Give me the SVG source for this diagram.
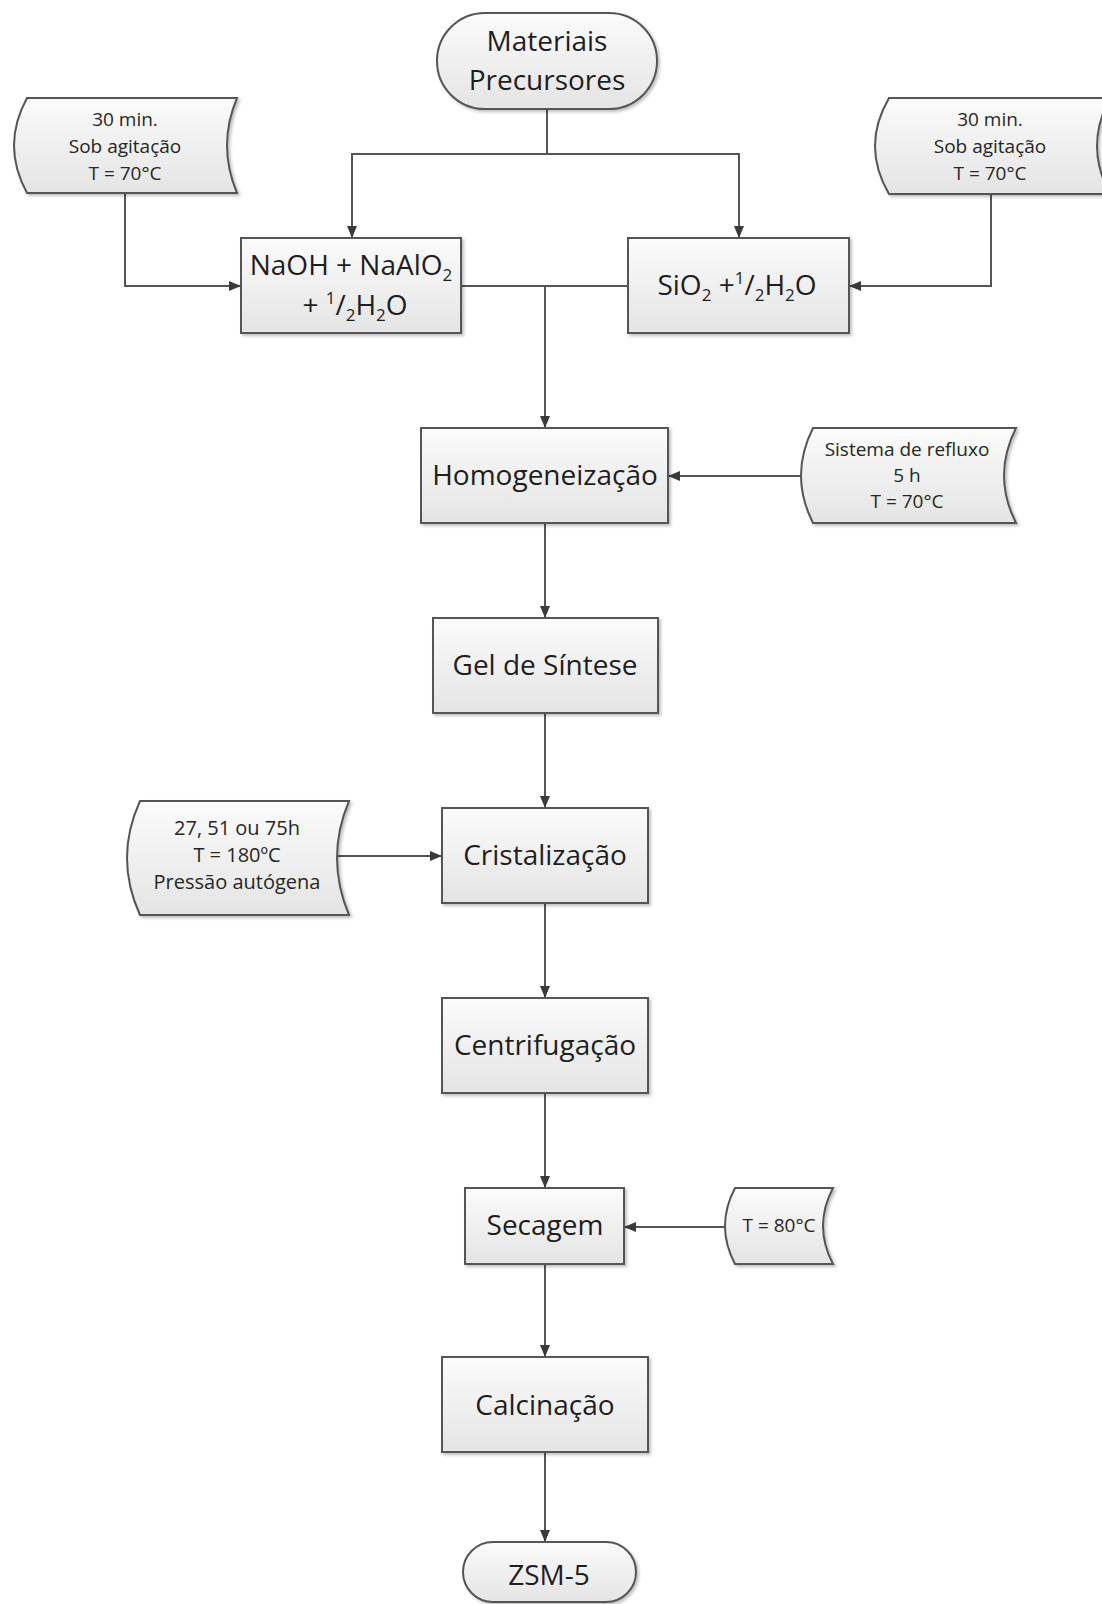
<svg xmlns="http://www.w3.org/2000/svg" width="1102" height="1604" viewBox="0 0 1102 1604">
<style>
.box{fill:url(#g);stroke:#555;stroke-width:2;filter:url(#sh)}
.lbl{font-family:"Open Sans","Liberation Sans",sans-serif;font-size:28px;fill:#1e1e1e;text-anchor:middle}
.sm{font-family:"Open Sans","Liberation Sans",sans-serif;font-size:19px;fill:#262626;text-anchor:middle}
.con{fill:none;stroke:#555;stroke-width:2;marker-end:url(#ar)}
.plain{fill:none;stroke:#555;stroke-width:2}
</style>
<defs>
<linearGradient id="g" x1="0" y1="0" x2="0" y2="1">
<stop offset="0" stop-color="#fbfbfb"/>
<stop offset="1" stop-color="#e4e4e4"/>
</linearGradient>
<filter id="sh" x="-10%" y="-10%" width="125%" height="130%">
<feDropShadow dx="2" dy="2" stdDeviation="1.5" flood-color="#000" flood-opacity="0.25"/>
</filter>
<marker id="ar" viewBox="0 0 12 10" refX="12" refY="5" markerWidth="12" markerHeight="10" markerUnits="userSpaceOnUse" orient="auto">
<path d="M0,0 L12,5 L0,10 Z" fill="#3a3a3a"/>
</marker>
</defs>
<rect width="1102" height="1604" fill="#fff"/>

<g id="connectors">
<path class="con" d="M547,109 V154 H352 V238"/>
<path class="con" d="M547,154 H739 V238"/>
<path class="con" d="M125,193 V286 H241"/>
<path class="con" d="M991,194 V286 H849"/>
<path class="plain" d="M461,286 H628"/>
<path class="con" d="M545,286 V428"/>
<path class="con" d="M801,476 H668"/>
<path class="con" d="M545,523 V618"/>
<path class="con" d="M545,713 V808"/>
<path class="con" d="M337,856 H442"/>
<path class="con" d="M545,903 V998"/>
<path class="con" d="M545,1093 V1188"/>
<path class="con" d="M725,1227 H624"/>
<path class="con" d="M545,1264 V1357"/>
<path class="con" d="M545,1452 V1542"/>
</g>

<g id="materiais">
<rect class="box" x="437" y="13" width="220" height="96" rx="48" ry="48"/>
<text class="lbl" x="547" y="51">Materiais</text>
<text class="lbl" x="547" y="90">Precursores</text>
</g>

<g id="doc-left">
<path class="box" d="M27,98 L237,98 Q217,145.5 237,193 L27,193 Q1,145.5 27,98 Z"/>
<text class="sm" x="125" y="126">30 min.</text>
<text class="sm" x="125" y="153">Sob agitação</text>
<text class="sm" x="125" y="180">T = 70°C</text>
</g>

<g id="doc-right">
<path class="box" d="M889,98 L1110,98 Q1084,146 1110,194 L889,194 Q861,146 889,98 Z"/>
<text class="sm" x="990" y="126">30 min.</text>
<text class="sm" x="990" y="153">Sob agitação</text>
<text class="sm" x="990" y="180">T = 70°C</text>
</g>

<g id="naoh">
<rect class="box" x="241" y="238" width="220" height="95"/>
<text class="lbl" x="351" y="275">NaOH + NaAlO<tspan font-size="17" dy="6">2</tspan></text>
<text class="lbl" x="355" y="315">+ <tspan font-size="17" dy="-11">1</tspan><tspan dy="11">/</tspan><tspan font-size="17" dy="6">2</tspan><tspan dy="-6">H</tspan><tspan font-size="17" dy="6">2</tspan><tspan dy="-6">O</tspan></text>
</g>

<g id="sio2">
<rect class="box" x="628" y="238" width="221" height="95"/>
<text class="lbl" x="737" y="295">SiO<tspan font-size="17" dy="6">2</tspan><tspan dy="-6"> +</tspan><tspan font-size="17" dy="-11">1</tspan><tspan dy="11">/</tspan><tspan font-size="17" dy="6">2</tspan><tspan dy="-6">H</tspan><tspan font-size="17" dy="6">2</tspan><tspan dy="-6">O</tspan></text>
</g>

<g id="homogeneizacao">
<rect class="box" x="421" y="428" width="247" height="95"/>
<text class="lbl" x="545" y="485">Homogeneização</text>
</g>

<g id="doc-refluxo">
<path class="box" d="M813,428 L1016,428 Q992,475.5 1016,523 L813,523 Q789,475.5 813,428 Z"/>
<text class="sm" x="907" y="456">Sistema de refluxo</text>
<text class="sm" x="907" y="482">5 h</text>
<text class="sm" x="907" y="508">T = 70°C</text>
</g>

<g id="gel">
<rect class="box" x="433" y="618" width="225" height="95"/>
<text class="lbl" x="545" y="675">Gel de Síntese</text>
</g>

<g id="doc-cristal">
<path class="box" d="M140,801 L349,801 Q325,858 349,915 L140,915 Q114,858 140,801 Z"/>
<text class="sm" x="237" y="835" style="font-size:20px">27, 51 ou 75h</text>
<text class="sm" x="237" y="862" style="font-size:20px">T = 180ºC</text>
<text class="sm" x="237" y="889" style="font-size:20px">Pressão autógena</text>
</g>

<g id="cristalizacao">
<rect class="box" x="442" y="808" width="206" height="95"/>
<text class="lbl" x="545" y="865">Cristalização</text>
</g>

<g id="centrifugacao">
<rect class="box" x="442" y="998" width="206" height="95"/>
<text class="lbl" x="545" y="1055">Centrifugação</text>
</g>

<g id="secagem">
<rect class="box" x="465" y="1188" width="159" height="76"/>
<text class="lbl" x="545" y="1235">Secagem</text>
</g>

<g id="doc-secagem">
<path class="box" d="M735,1188 L833,1188 Q813,1226 833,1264 L735,1264 Q715,1226 735,1188 Z"/>
<text class="sm" x="779" y="1232">T = 80°C</text>
</g>

<g id="calcinacao">
<rect class="box" x="442" y="1357" width="206" height="95"/>
<text class="lbl" x="545" y="1415">Calcinação</text>
</g>

<g id="zsm5">
<rect class="box" x="463" y="1542" width="173" height="60" rx="30" ry="30"/>
<text class="lbl" x="549" y="1585">ZSM-5</text>
</g>
</svg>
